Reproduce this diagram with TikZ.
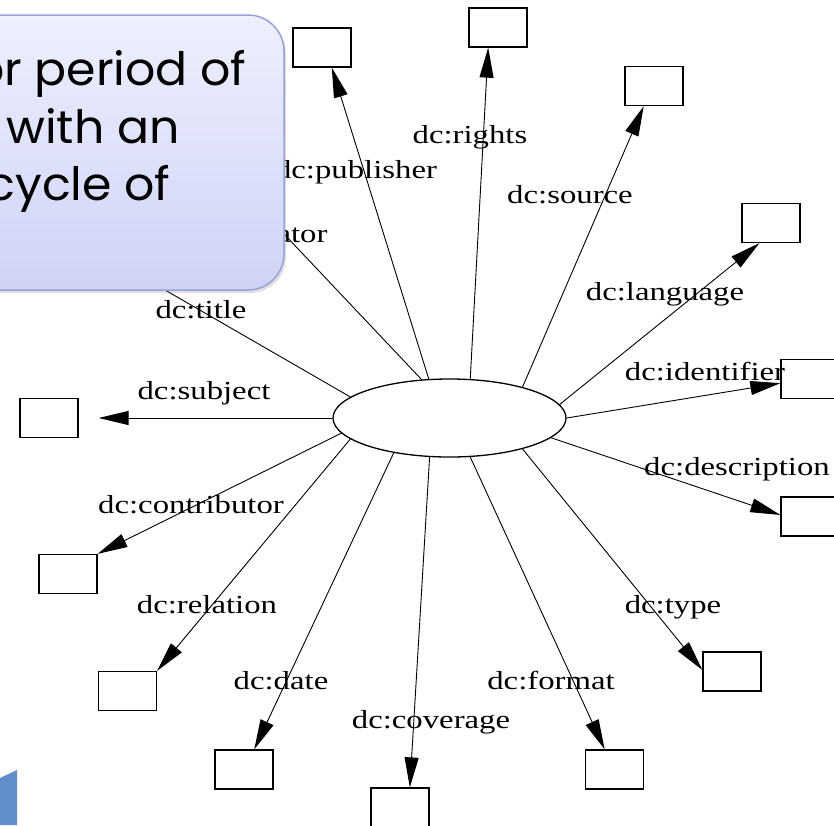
\documentclass[tikz,border=0pt]{standalone}
\usepackage{fontspec}
\usetikzlibrary{arrows.meta,shapes.geometric,shadows}
\newfontfamily\dcfont[FakeStretch=1.26]{Liberation Serif}
\newfontfamily\slidefont[FakeStretch=1.03]{Poppins}
\definecolor{calltop}{RGB}{238,240,253}
\definecolor{callbot}{RGB}{206,211,246}
\definecolor{callline}{RGB}{152,162,216}
\definecolor{cornerblue}{RGB}{98,143,204}
\tikzstyle{obj}=[rectangle,draw,line width=1.3pt,minimum width=58pt,minimum height=39pt,inner sep=0pt]
\tikzstyle{res}=[ellipse,draw,line width=1.3pt,minimum width=233pt,minimum height=78pt,inner sep=0pt]
\tikzstyle{lbl}=[anchor=base,inner sep=0pt,font=\dcfont\fontsize{26}{26}\selectfont]
\tikzstyle{slide}=[anchor=base east,inner sep=0pt,font=\slidefont\fontsize{46}{46}\selectfont]
\tikzset{every picture/.style={line width=0.9pt}}

\begin{document}
\begin{tikzpicture}
  [x=1pt,y=-1pt,>={Triangle[length=30pt,width=14pt]}]
\useasboundingbox (0,0) rectangle (834,825);
\node[res] (r) at (449.5,418) {};
\node[obj] (pub) at (322,47.5) {};
\node[obj] (rig) at (498,27.5) {};
\node[obj] (src) at (654,86) {};
\node[obj] (lan) at (771,223) {};
\node[obj] (ide) at (810,379) {};
\node[obj] (des) at (810,516.5) {};
\node[obj] (typ) at (732,671.5) {};
\node[obj] (fmt) at (614.5,769.5) {};
\node[obj] (cov) at (400,807.5) {};
\node[obj] (dat) at (244,769.5) {};
\node[obj] (rel) at (127.5,691) {};
\node[obj] (con) at (68,574) {};
\node[obj] (sub) at (49,418) {};
\coordinate (cre) at (250,198);
\coordinate (tit) at (120,264);
\path[->]
(r.118) edge (pub.-64)
(r.62) edge (rig.-116)
(r.23) edge (src.-117)
(r.7) edge (lan.-120)
(r.east) edge (ide.188)
(r.-11) edge (des.177)
(r.-23) edge (typ.177)
(r.-62) edge (fmt.116)
(r.-117) edge (cov.64)
(r.-148) edge (dat.63)
(r.-168) edge (rel.north east)
(r.-172) edge (con.north east)
(r.west) edge[shorten >=20pt] (sub.east)
(r.126) edge[-] (cre)
(r.168) edge[-] (tit);
\node[lbl] (l1) at (356,178) {dc:publisher};
\node[lbl] (l2) at (470,143) {dc:rights};
\node[lbl] (l3) at (570,203) {dc:source};
\node[lbl] (l4) at (665,300) {dc:language};
\node[lbl] (l5) at (705,380) {dc:identifier};
\node[lbl] (l6) at (737,475) {dc:description};
\node[lbl] (l7) at (673,613) {dc:type};
\node[lbl] (l8) at (551,689) {dc:format};
\node[lbl] (l9) at (431,728) {dc:coverage};
\node[lbl] (l10) at (281,689) {dc:date};
\node[lbl] (l11) at (207,613) {dc:relation};
\node[lbl] (l12) at (191,513) {dc:contributor};
\node[lbl] (l13) at (204,399) {dc:subject};
\node[lbl] (l14) at (201,318) {dc:title};
\node[lbl] (l15) at (262,242) {dc:creator};
% slide callout on top
\draw[callline,line width=1.5pt,top color=calltop,bottom color=callbot,rounded corners=36pt,
  drop shadow={shadow xshift=2pt,shadow yshift=-3pt,opacity=.25}] (-60,15) rectangle (284,290);
\node[slide] (t1) at (247,85) {or period of};
\node[slide] (t2) at (180,143) {with an};
\node[slide] (t3) at (171,200) {cycle of};
\fill[cornerblue] (0,778) -- (17,770) -- (17,825) -- (0,825) -- cycle;
\end{tikzpicture}
\end{document}
